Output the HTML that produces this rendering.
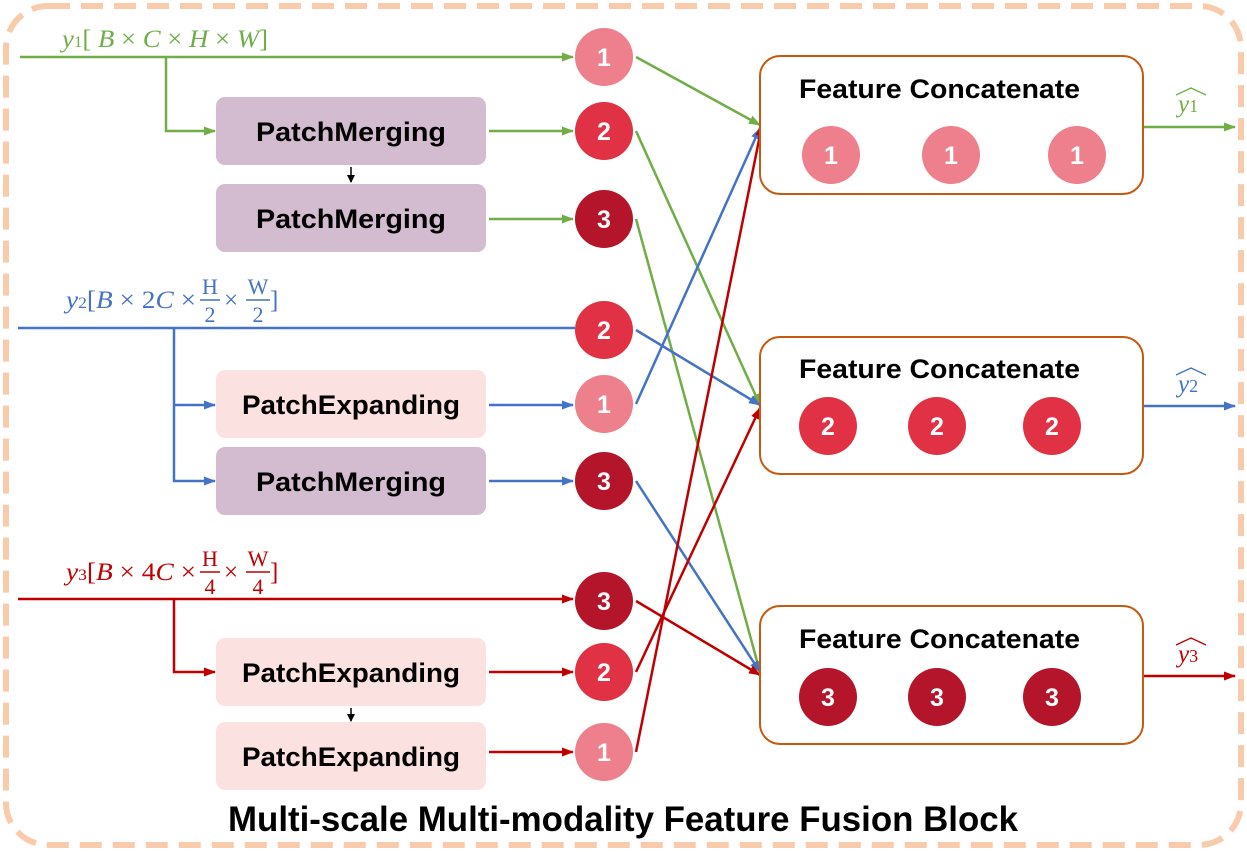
<!DOCTYPE html>
<html><head><meta charset="utf-8"><style>body{margin:0;background:#fff}svg{display:block}</style></head><body>
<svg width="1247" height="852" viewBox="0 0 1247 852" xmlns="http://www.w3.org/2000/svg">
<defs>
<marker id="ag" markerWidth="12" markerHeight="10" refX="11" refY="5" orient="auto" markerUnits="userSpaceOnUse"><path d="M0,0.5 L12,5 L0,9.5z" fill="#70ad47"/></marker>
<marker id="ab" markerWidth="12" markerHeight="10" refX="11" refY="5" orient="auto" markerUnits="userSpaceOnUse"><path d="M0,0.5 L12,5 L0,9.5z" fill="#4472c4"/></marker>
<marker id="ar" markerWidth="12" markerHeight="10" refX="11" refY="5" orient="auto" markerUnits="userSpaceOnUse"><path d="M0,0.5 L12,5 L0,9.5z" fill="#c00000"/></marker>
<marker id="ak" markerWidth="8" markerHeight="8" refX="7" refY="4" orient="auto" markerUnits="userSpaceOnUse"><path d="M0,0 L8,4 L0,8z" fill="#000"/></marker>
</defs>
<rect x="6" y="6" width="1235" height="839" rx="42" fill="none" stroke="#f8cbad" stroke-width="6" stroke-dasharray="22,11"/>
<g font-family="Liberation Sans, sans-serif" font-weight="bold" font-size="27" text-anchor="middle">
<rect x="216" y="97" width="270" height="68" rx="9" fill="#d3bbd0"/><text x="351" y="141" textLength="190" lengthAdjust="spacingAndGlyphs">PatchMerging</text>
<rect x="216" y="184" width="270" height="68" rx="9" fill="#d3bbd0"/><text x="351" y="228" textLength="190" lengthAdjust="spacingAndGlyphs">PatchMerging</text>
<rect x="216" y="370" width="270" height="68" rx="9" fill="#fce1e1"/><text x="351" y="414" textLength="218" lengthAdjust="spacingAndGlyphs">PatchExpanding</text>
<rect x="216" y="447" width="270" height="68" rx="9" fill="#d3bbd0"/><text x="351" y="491" textLength="190" lengthAdjust="spacingAndGlyphs">PatchMerging</text>
<rect x="216" y="638" width="270" height="68" rx="9" fill="#fce1e1"/><text x="351" y="682" textLength="218" lengthAdjust="spacingAndGlyphs">PatchExpanding</text>
<rect x="216" y="722" width="270" height="68" rx="9" fill="#fce1e1"/><text x="351" y="766" textLength="218" lengthAdjust="spacingAndGlyphs">PatchExpanding</text>
</g>
<line x1="351" y1="167" x2="351" y2="182" stroke="#000" stroke-width="1.5" marker-end="url(#ak)"/>
<line x1="351" y1="708" x2="351" y2="721" stroke="#000" stroke-width="1.5" marker-end="url(#ak)"/>
<g fill="none" stroke-width="2.5">
<path d="M20,57 H573" stroke="#70ad47" marker-end="url(#ag)"/>
<path d="M166,57 V131 H215" stroke="#70ad47" marker-end="url(#ag)"/>
<path d="M489,131 H573" stroke="#70ad47" marker-end="url(#ag)"/>
<path d="M489,219 H573" stroke="#70ad47" marker-end="url(#ag)"/>
<path d="M18,328 H575" stroke="#4472c4"/>
<path d="M174,328 V481 H215" stroke="#4472c4" marker-end="url(#ab)"/>
<path d="M174,405 H215" stroke="#4472c4" marker-end="url(#ab)"/>
<path d="M489,405 H573" stroke="#4472c4" marker-end="url(#ab)"/>
<path d="M489,481 H573" stroke="#4472c4" marker-end="url(#ab)"/>
<path d="M18,599 H573" stroke="#c00000" marker-end="url(#ar)"/>
<path d="M174,599 V672 H215" stroke="#c00000" marker-end="url(#ar)"/>
<path d="M489,672 H573" stroke="#c00000" marker-end="url(#ar)"/>
<path d="M489,752 H573" stroke="#c00000" marker-end="url(#ar)"/>
<path d="M636,57 L760,125" stroke="#70ad47" marker-end="url(#ag)"/>
<path d="M636,131 L760,405" stroke="#70ad47" marker-end="url(#ag)"/>
<path d="M636,219 L760,672" stroke="#70ad47" marker-end="url(#ag)"/>
<path d="M636,404 L760,128" stroke="#4472c4" marker-end="url(#ab)"/>
<path d="M636,330 L760,405" stroke="#4472c4" marker-end="url(#ab)"/>
<path d="M636,481 L760,672" stroke="#4472c4" marker-end="url(#ab)"/>
<path d="M636,752 L762,125" stroke="#c00000" marker-end="url(#ar)"/>
<path d="M636,672 L760,408" stroke="#c00000" marker-end="url(#ar)"/>
<path d="M636,601 L760,675" stroke="#c00000" marker-end="url(#ar)"/>
<path d="M1143,127 H1235" stroke="#70ad47" marker-end="url(#ag)"/>
<path d="M1143,406 H1235" stroke="#4472c4" marker-end="url(#ab)"/>
<path d="M1143,676 H1235" stroke="#c00000" marker-end="url(#ar)"/>
</g>
<g fill="#fff" stroke="#c55a11" stroke-width="2">
<rect x="760" y="56" width="383" height="138" rx="20"/>
<rect x="760" y="337" width="383" height="137" rx="20"/>
<rect x="760" y="606" width="383" height="138" rx="20"/>
</g>
<g font-family="Liberation Sans, sans-serif" font-weight="bold" font-size="27">
<text x="799" y="98" textLength="281" lengthAdjust="spacingAndGlyphs">Feature Concatenate</text>
<text x="799" y="378" textLength="281" lengthAdjust="spacingAndGlyphs">Feature Concatenate</text>
<text x="799" y="648" textLength="281" lengthAdjust="spacingAndGlyphs">Feature Concatenate</text>
</g>
<g font-family="Liberation Sans, sans-serif" font-weight="bold" font-size="25" text-anchor="middle" fill="#fff">
<g fill="#ee7f8c"><circle cx="604" cy="57" r="29"/><circle cx="604" cy="404" r="29"/><circle cx="604" cy="752" r="29"/><circle cx="831" cy="155" r="29"/><circle cx="951" cy="155" r="29"/><circle cx="1077" cy="155" r="29"/></g>
<g fill="#e03145"><circle cx="604" cy="131" r="29"/><circle cx="604" cy="330" r="29"/><circle cx="604" cy="672" r="29"/><circle cx="828" cy="426" r="29"/><circle cx="937" cy="426" r="29"/><circle cx="1052" cy="426" r="29"/></g>
<g fill="#b5152b"><circle cx="604" cy="219" r="29"/><circle cx="604" cy="481" r="29"/><circle cx="604" cy="601" r="29"/><circle cx="828" cy="697" r="29"/><circle cx="937" cy="697" r="29"/><circle cx="1052" cy="697" r="29"/></g>
<text x="604" y="66">1</text><text x="604" y="413">1</text><text x="604" y="761">1</text><text x="831" y="164">1</text><text x="951" y="164">1</text><text x="1077" y="164">1</text>
<text x="604" y="140">2</text><text x="604" y="339">2</text><text x="604" y="681">2</text><text x="828" y="435">2</text><text x="937" y="435">2</text><text x="1052" y="435">2</text>
<text x="604" y="228">3</text><text x="604" y="490">3</text><text x="604" y="610">3</text><text x="828" y="706">3</text><text x="937" y="706">3</text><text x="1052" y="706">3</text>
</g>
<g font-family="Liberation Serif, serif" font-size="25">
<text x="62" y="47" fill="#70ad47" textLength="206" lengthAdjust="spacingAndGlyphs"><tspan font-style="italic">y</tspan><tspan font-size="16">1</tspan>[ <tspan font-style="italic">B</tspan> × <tspan font-style="italic">C</tspan> × <tspan font-style="italic">H</tspan> × <tspan font-style="italic">W</tspan>]</text>
<g fill="#4472c4"><text x="66" y="308" textLength="130" lengthAdjust="spacingAndGlyphs"><tspan font-style="italic">y</tspan><tspan font-size="16">2</tspan>[<tspan font-style="italic">B</tspan> × 2<tspan font-style="italic">C</tspan> ×</text>
<text x="210" y="294" font-size="22" text-anchor="middle">H</text><line x1="200" y1="300" x2="220" y2="300" stroke="#4472c4" stroke-width="1.5"/><text x="210" y="322" font-size="22" text-anchor="middle">2</text>
<text x="224" y="308">×</text>
<text x="258" y="294" font-size="22" text-anchor="middle">W</text><line x1="246" y1="300" x2="270" y2="300" stroke="#4472c4" stroke-width="1.5"/><text x="258" y="322" font-size="22" text-anchor="middle">2</text>
<text x="270" y="308">]</text></g>
<g fill="#c00000"><text x="66" y="580" textLength="130" lengthAdjust="spacingAndGlyphs"><tspan font-style="italic">y</tspan><tspan font-size="16">3</tspan>[<tspan font-style="italic">B</tspan> × 4<tspan font-style="italic">C</tspan> ×</text>
<text x="210" y="566" font-size="22" text-anchor="middle">H</text><line x1="200" y1="572" x2="220" y2="572" stroke="#c00000" stroke-width="1.5"/><text x="210" y="594" font-size="22" text-anchor="middle">4</text>
<text x="224" y="580">×</text>
<text x="258" y="566" font-size="22" text-anchor="middle">W</text><line x1="246" y1="572" x2="270" y2="572" stroke="#c00000" stroke-width="1.5"/><text x="258" y="594" font-size="22" text-anchor="middle">4</text>
<text x="270" y="580">]</text></g>
<text x="1178" y="112" fill="#70ad47"><tspan font-style="italic">y</tspan><tspan font-size="18">1</tspan></text>
<path d="M1176,95 L1191,88 L1206,95" fill="none" stroke="#70ad47" stroke-width="1.3"/>
<text x="1178" y="392" fill="#4472c4"><tspan font-style="italic">y</tspan><tspan font-size="18">2</tspan></text>
<path d="M1176,375 L1191,368 L1206,375" fill="none" stroke="#4472c4" stroke-width="1.3"/>
<text x="1178" y="662" fill="#c00000"><tspan font-style="italic">y</tspan><tspan font-size="18">3</tspan></text>
<path d="M1176,645 L1191,638 L1206,645" fill="none" stroke="#c00000" stroke-width="1.3"/>
</g>
<text x="623" y="831" font-family="Liberation Sans, sans-serif" font-weight="bold" font-size="35" text-anchor="middle" textLength="790" lengthAdjust="spacingAndGlyphs">Multi-scale Multi-modality Feature Fusion Block</text>
</svg>
</body></html>
